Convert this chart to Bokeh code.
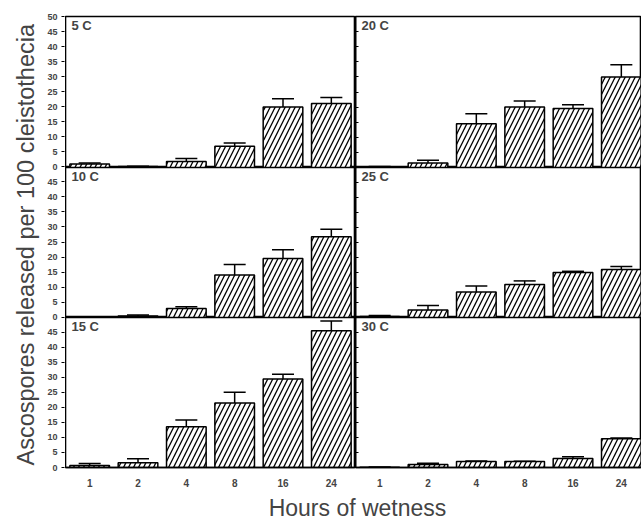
import math
from bokeh.plotting import figure
from bokeh.models import (ColumnDataSource, Range1d, FixedTicker, Whisker, TeeHead,
                          Label, CustomLabelingPolicy)
from bokeh.layouts import row, column
from bokeh.embed import file_html
from bokeh.resources import INLINE

# ---- data ----
hours = ["1", "2", "4", "8", "16", "24"]
panels = ["5 C", "10 C", "15 C", "20 C", "25 C", "30 C"]

t5 = [1.2, 0.3, 2.0, 7.0, 20.0, 21.2]
e5 = [0.3, 0.1, 1.0, 1.1, 2.8, 2.0]
t10 = [0.1, 0.5, 3.0, 14.2, 19.7, 26.9]
e10 = [0.1, 0.3, 0.6, 3.5, 2.9, 2.5]
t15 = [0.7, 1.6, 13.6, 21.5, 29.5, 45.6]
e15 = [0.6, 1.3, 2.2, 3.6, 1.6, 3.2]
t20 = [0.1, 1.5, 14.5, 20.0, 19.5, 30.0]
e20 = [0.2, 0.9, 3.3, 2.0, 1.3, 4.0]
t25 = [0.3, 2.5, 8.5, 11.0, 15.0, 16.0]
e25 = [0.4, 1.5, 2.0, 1.2, 0.4, 1.0]
t30 = [0.1, 1.0, 2.0, 2.0, 3.0, 9.6]
e30 = [0.1, 0.4, 0.2, 0.1, 0.6, 0.2]

y_max = 50
y_step = 5
y_inner_ticks = [5, 10, 15, 20, 25, 30, 35, 40, 45]
# tick labels for the shared left scale: rows stacked bottom (15 C) to top (5 C)
y_tick_labels = ["0", "5", "10", "15", "20", "25", "30", "35", "40", "45"]
y_top_label = "50"

FONT = "Liberation Sans"
PX_PER_CAT = 290 / 6.0
N_ROWS = 3

no_labels = CustomLabelingPolicy(code="""
const ids = [...indices.ones()];
for (const i of ids) {
  if (indices.unset) { indices.unset(i) } else { indices.set(i, false) }
}
return indices;
""")


def panel(name, tops, errs, left_col, row_idx):
    frame_w = 290 if left_col else 286
    mb_top = 16 if row_idx == 0 else 0
    mb_bottom = 25 if row_idx == 2 else 0
    frame_h = 151 if row_idx == 0 else 150
    x_end = -0.5 + frame_w / PX_PER_CAT
    p = figure(width=frame_w, height=mb_top + frame_h + mb_bottom,
               x_range=Range1d(-0.5, x_end), y_range=Range1d(0, y_max),
               output_backend="svg", toolbar_location=None,
               min_border_left=0, min_border_right=0,
               min_border_top=mb_top, min_border_bottom=mb_bottom)
    p.grid.visible = False
    p.outline_line_color = "black"
    p.outline_line_width = 1.6
    p.background_fill_color = "white"
    p.border_fill_color = "white"

    xs = list(range(len(hours)))
    src = ColumnDataSource(dict(x=xs, top=tops,
                                upper=[t + e for t, e in zip(tops, errs)]))
    p.vbar(x="x", top="top", width=0.82, source=src, fill_color="white",
           line_color="black", line_width=1.5, hatch_pattern="/",
           hatch_color="black", hatch_scale=10, hatch_weight=1.3)
    w = Whisker(source=src, base="x", lower="top", upper="upper",
                dimension="height", line_width=1.5, line_color="black",
                upper_head=TeeHead(size=22, line_width=1.5, line_color="black"),
                lower_head=None)
    p.add_layout(w)

    ya = p.yaxis[0]
    if left_col:
        ya.visible = False
    else:
        ya.ticker = FixedTicker(ticks=y_inner_ticks)
        ya.major_tick_out = 0
        ya.major_tick_in = 3
        ya.major_label_standoff = 0
        ya.major_label_text_font_size = "0px"
        ya.major_label_policy = no_labels
        ya.axis_line_width = 1.6
        ya.major_tick_line_width = 1.2
        ya.minor_tick_line_color = None

    xa = p.xaxis[0]
    if row_idx == 2:
        xa.ticker = FixedTicker(ticks=xs)
        xa.major_label_overrides = {i: h for i, h in enumerate(hours)}
        xa.major_tick_out = 0
        xa.major_tick_in = 0
        xa.minor_tick_line_color = None
        xa.major_label_standoff = 11
        xa.major_label_text_font = FONT
        xa.major_label_text_font_style = "bold"
        xa.major_label_text_font_size = "10px"
        xa.axis_line_width = 1.6
    else:
        xa.visible = False

    p.add_layout(Label(x=-0.5, y=y_max, x_offset=6, y_offset=-8.5, text=name,
                       text_font=FONT, text_font_style="bold",
                       text_font_size="13px", text_baseline="alphabetic",
                       text_align="left"))
    return p


p1 = panel(panels[0], t5, e5, True, 0)
p2 = panel(panels[1], t10, e10, True, 1)
p3 = panel(panels[2], t15, e15, True, 2)
p4 = panel(panels[3], t20, e20, False, 0)
p5 = panel(panels[4], t25, e25, False, 1)
p6 = panel(panels[5], t30, e30, False, 2)

total_h = p1.height + p2.height + p3.height

# shared tick-label scale for the three stacked left panels
span = y_max * N_ROWS
tick_vals, tick_over = [], {}
for r in range(N_ROWS):
    for k, lab in enumerate(y_tick_labels):
        v = r * y_max + k * y_step
        tick_vals.append(v)
        tick_over[v] = lab
tick_vals.append(span)
tick_over[span] = y_top_label

lab_fig = figure(width=23, height=total_h, x_range=Range1d(0, 1),
                 y_range=Range1d(0, span), output_backend="svg",
                 toolbar_location=None, min_border_left=22, min_border_right=0,
                 min_border_top=16, min_border_bottom=25)
lab_fig.grid.visible = False
lab_fig.xaxis.visible = False
lab_fig.outline_line_color = None
la = lab_fig.yaxis[0]
la.ticker = FixedTicker(ticks=tick_vals)
la.major_label_overrides = tick_over
la.major_tick_out = 3
la.major_tick_in = 0
la.major_tick_line_width = 1.2
la.minor_tick_line_color = None
la.axis_line_color = None
la.major_label_standoff = 4
la.major_label_text_font = FONT
la.major_label_text_font_style = "bold"
la.major_label_text_font_size = "9px"

yfig = figure(width=42, height=total_h, x_range=Range1d(0, 42),
              y_range=Range1d(0, total_h), output_backend="svg",
              toolbar_location=None, min_border=0)
yfig.axis.visible = False
yfig.grid.visible = False
yfig.outline_line_color = None
yfig.add_layout(Label(x=25, y=total_h - 249, angle=math.pi / 2,
                      text="Ascospores released per 100 cleistothecia",
                      text_font=FONT, text_font_size="23.5px",
                      text_align="center", text_baseline="alphabetic"))

total_w = 42 + 23 + p1.width + p4.width
xfig = figure(width=total_w, height=28, x_range=Range1d(0, total_w),
              y_range=Range1d(0, 28), output_backend="svg",
              toolbar_location=None, min_border=0)
xfig.axis.visible = False
xfig.grid.visible = False
xfig.outline_line_color = None
xfig.add_layout(Label(x=357, y=13, text="Hours of wetness", text_font=FONT,
                      text_font_size="23px", text_align="center",
                      text_baseline="alphabetic"))

grid = column(row(p1, p4), row(p2, p5), row(p3, p6))
layout = column(row(yfig, lab_fig, grid), xfig)

open("out.html", "w").write(file_html(layout, INLINE))
